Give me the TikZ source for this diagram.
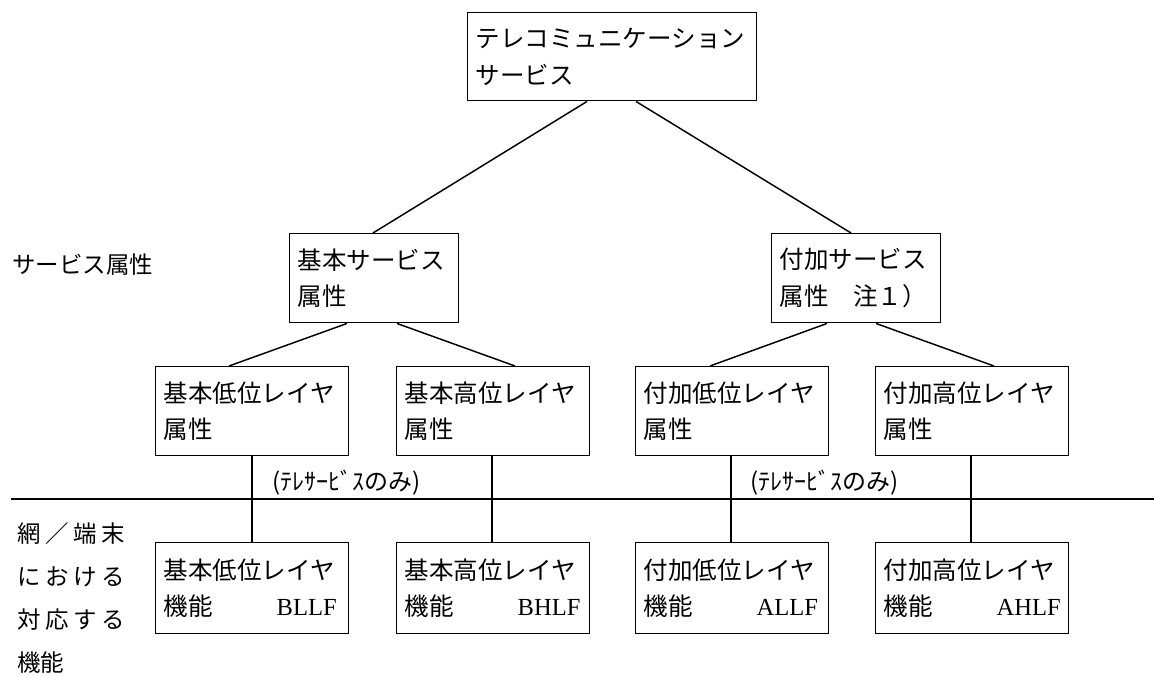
\documentclass[tikz,border=0pt]{standalone}
\usepackage{fontspec}
\setmainfont{Liberation Serif}
\newfontfamily\jp{Noto Sans CJK JP}
\begin{document}
\begin{tikzpicture}[x=0.75pt,y=-0.75pt,
  box/.style={draw, line width=1.1pt, anchor=north west, inner xsep=6pt, inner ysep=0pt,
    align=left, font=\jp\fontsize{18.4}{27.5}\selectfont},
  wbox/.style={box, minimum width=144.75pt, text width=132.75pt},
  conn/.style={line width=1.1pt},
  lbl/.style={inner sep=0pt, anchor=west, font=\jp\fontsize{17.6}{22}\selectfont},
  tele/.style={inner sep=0pt, anchor=west, font=\jp\fontsize{18}{22}\selectfont}]
\useasboundingbox (0,0) rectangle (1154,677);

% top
\node[box, minimum width=216.75pt, minimum height=66pt, text width=204.75pt] (top) at (467,12)
  {テレコミュニケーション\\サービス};
% service attributes
\node[box, minimum width=126.75pt, minimum height=66.75pt, text width=114.75pt] (ksvc) at (289,233)
  {基本サービス\\属性};
\node[box, minimum width=126.75pt, minimum height=66.75pt, text width=114.75pt] (fsvc) at (771,233)
  {付加サービス\\属性　注１）};
% layer attributes
\node[wbox, minimum height=66.75pt] (la) at (155,366) {基本低位レイヤ\\属性};
\node[wbox, minimum height=66.75pt] (lb) at (396,366) {基本高位レイヤ\\属性};
\node[wbox, minimum height=66.75pt] (lc) at (635,366) {付加低位レイヤ\\属性};
\node[wbox, minimum height=66.75pt] (ld) at (875,366) {付加高位レイヤ\\属性};
% functions
\node[wbox, minimum height=68.25pt] (fa) at (155,542) {基本低位レイヤ\\\makebox[84.75pt][l]{機能}{\rmfamily BLLF}};
\node[wbox, minimum height=68.25pt] (fb) at (396,542) {基本高位レイヤ\\\makebox[84.75pt][l]{機能}{\rmfamily BHLF}};
\node[wbox, minimum height=68.25pt] (fc) at (635,542) {付加低位レイヤ\\\makebox[84.75pt][l]{機能}{\rmfamily ALLF}};
\node[wbox, minimum height=68.25pt] (fd) at (875,542) {付加高位レイヤ\\\makebox[84.75pt][l]{機能}{\rmfamily AHLF}};

% side labels
\node[lbl] (svcattr) at (12,265) {サービス属性};
\node[lbl, align=left, font=\jp\fontsize{17.6}{32.25}\selectfont] (netfunc) at (17,598)
  {\makebox[81pt][s]{網\hfil ／\hfil 端\hfil 末}\\
   \makebox[81pt][s]{に\hfil お\hfil け\hfil る}\\
   \makebox[81pt][s]{対\hfil 応\hfil す\hfil る}\\
   機能};
\node[tele] (telea) at (272,483) {(ﾃﾚｻｰﾋﾞｽのみ)};
\node[tele] (teleb) at (750,483) {(ﾃﾚｻｰﾋﾞｽのみ)};

% divider
\coordinate (divL) at (11,499);
\coordinate (divR) at (1154,499);
\draw[conn] (divL) -- (divR);

% connectors
\draw[conn] ([xshift=90pt]top.south west) -- ([xshift=63pt]ksvc.north west);
\draw[conn] ([xshift=126.75pt]top.south west) -- ([xshift=60pt]fsvc.north west);
\draw[conn] ([xshift=43.5pt]ksvc.south west) -- ([xshift=55.5pt]la.north west);
\draw[conn] ([xshift=81pt]ksvc.south west) -- ([xshift=89.25pt]lb.north west);
\draw[conn] ([xshift=42pt]fsvc.south west) -- ([xshift=56.25pt]lc.north west);
\draw[conn] ([xshift=78.75pt]fsvc.south west) -- ([xshift=89.25pt]ld.north west);
\draw[conn] ([xshift=72.75pt]la.south west) -- ([xshift=72.75pt]fa.north west);
\draw[conn] ([xshift=72pt]lb.south west) -- ([xshift=72pt]fb.north west);
\draw[conn] ([xshift=72pt]lc.south west) -- ([xshift=72pt]fc.north west);
\draw[conn] ([xshift=72pt]ld.south west) -- ([xshift=72pt]fd.north west);
\end{tikzpicture}
\end{document}
